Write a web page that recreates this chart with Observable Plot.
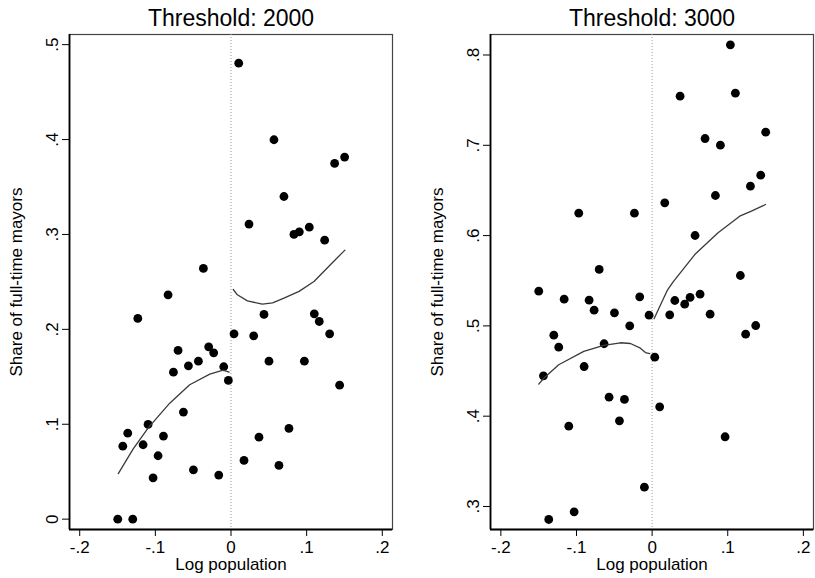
<!DOCTYPE html>
<html>
<head>
<meta charset="utf-8">
<script src="https://cdn.jsdelivr.net/npm/d3@7"></script>
<script src="https://cdn.jsdelivr.net/npm/@observablehq/plot@0.6"></script>
<style>
  html, body { margin: 0; padding: 0; background: #fff; }
  #chart { position: relative; width: 815px; height: 578px; overflow: hidden; background: #fff; }
  #chart > div { position: absolute; top: 0; }
</style>
</head>
<body>
<div id="chart"><div id="p2000" style="left:0"></div><div id="p3000" style="left:407px"></div></div>
<script>
// Municipalities around the population threshold: log population (centred) and share of full-time mayors
const pop2000 = [0.0102, 0.0568, 0.1502, 0.137, 0.070, 0.0238, 0.0832, 0.0903, 0.1035, 0.1238,
  0.0436, 0.1101, 0.1167, 0.1304, 0.004, 0.030, 0.0502, 0.097, 0.1436, 0.0766, 0.037, 0.0172, 0.0634,
  -0.0365, -0.0832, -0.1232, -0.070, -0.0295, -0.0229, -0.0431, -0.0563, -0.0761, -0.0096, -0.0035,
  -0.0629, -0.1096, -0.1365, -0.143, -0.1162, -0.0893, -0.0964, -0.103, -0.0497, -0.0162, -0.1497, -0.1299];
const share2000 = [0.4805, 0.3998, 0.3815, 0.3748, 0.340, 0.3109, 0.300, 0.3028, 0.3077, 0.294,
  0.2157, 0.2164, 0.2083, 0.1953, 0.1953, 0.1932, 0.1665, 0.1665, 0.1412, 0.0956, 0.0864, 0.0619, 0.0566,
  0.2642, 0.2364, 0.2115, 0.1778, 0.1816, 0.1753, 0.1665, 0.1616, 0.1549, 0.1606, 0.1462,
  0.1128, 0.0998, 0.0906, 0.0769, 0.0784, 0.0875, 0.0668, 0.0436, 0.052, 0.0464, 0, 0];

const pop3000 = [-0.097, -0.0234, -0.070, -0.1499, -0.1163, -0.0833, -0.0767, -0.0498, -0.0164, -0.004,
  -0.0296, -0.130, -0.1235, -0.0635, -0.0899, -0.1437, -0.0569, -0.0366, -0.0432, -0.1102, -0.0102, -0.1031, -0.1367,
  0.1035, 0.037, 0.1101, 0.1502, 0.070, 0.0903, 0.1436, 0.130, 0.0837, 0.0167, 0.0568, 0.1167,
  0.0035, 0.010, 0.0233, 0.030, 0.0431, 0.0502, 0.0634, 0.0767, 0.1237, 0.137, 0.0965];
const share3000 = [0.6248, 0.6248, 0.5625, 0.5384, 0.5296, 0.5285, 0.5174, 0.5145, 0.5322, 0.5119,
  0.5001, 0.4897, 0.4764, 0.4802, 0.455, 0.4447, 0.4211, 0.4185, 0.3949, 0.3889, 0.3214, 0.2941, 0.2856,
  0.8113, 0.7544, 0.7577, 0.7145, 0.7075, 0.7001, 0.6669, 0.6547, 0.6444, 0.6363, 0.6001, 0.5558,
  0.4653, 0.4104, 0.5123, 0.5281, 0.524, 0.5315, 0.5351, 0.513, 0.4908, 0.5004, 0.3772];

// Local (lowess) fits on each side of the threshold
const fitBelow2000X = [-0.149, -0.1295, -0.1097, -0.081, -0.0546, -0.028, -0.0104, -0.0025];
const fitBelow2000Y = [0.048, 0.0738, 0.0959, 0.1222, 0.1416, 0.1528, 0.157, 0.155];
const fitAbove2000X = [0.003, 0.0084, 0.0217, 0.0415, 0.055, 0.07, 0.09, 0.1097, 0.1317, 0.1506];
const fitAbove2000Y = [0.242, 0.2364, 0.230, 0.2266, 0.228, 0.2329, 0.240, 0.2505, 0.2684, 0.2835];

const fitBelow3000X = [-0.1499, -0.1433, -0.1235, -0.0904, -0.064, -0.0419, -0.0287, -0.0155, -0.0089, -0.0031];
const fitBelow3000Y = [0.4355, 0.442, 0.457, 0.4717, 0.4783, 0.4813, 0.4805, 0.4753, 0.4705, 0.4694];
const fitAbove3000X = [0.0026, 0.0198, 0.0278, 0.0564, 0.0872, 0.1158, 0.1313, 0.150];
const fitAbove3000Y = [0.508, 0.539, 0.5488, 0.579, 0.6031, 0.6215, 0.627, 0.6344];

// Axis ticks and their labels
const xTicks = [-0.2, -0.1, 0, 0.1, 0.2];
const xTickLabels = ["-.2", "-.1", "0", ".1", ".2"];
const yTicks2000 = [0, 0.1, 0.2, 0.3, 0.4, 0.5];
const yTickLabels2000 = ["0", ".1", ".2", ".3", ".4", ".5"];
const yTicks3000 = [0.3, 0.4, 0.5, 0.6, 0.7, 0.8];
const yTickLabels3000 = [".3", ".4", ".5", ".6", ".7", ".8"];

const titles = ["Threshold: 2000", "Threshold: 3000"];
const xTitle = "Log population";
const yTitle = "Share of full-time mayors";

const zip = (xs, ys) => xs.map((x, i) => ({x, y: ys[i]}));

function panel({title, pts, below, above, xDomain, yDomain, yTicks, yLabels, width, marginLeft, marginRight}) {
  const font = 17;
  return Plot.plot({
    width, height: 578,
    marginLeft, marginRight, marginTop: 34, marginBottom: 49,
    x: {domain: xDomain},
    y: {domain: yDomain},
    style: {fontFamily: "'Liberation Sans', Arial, Helvetica, sans-serif", fontSize: font + "px", background: "#fff", color: "#000"},
    marks: [
      Plot.frame({stroke: "#444", strokeWidth: 1.2}),
      Plot.ruleX([xDomain[0]], {stroke: "#000", strokeWidth: 1.8}),
      Plot.ruleY([yDomain[0]], {stroke: "#000", strokeWidth: 1.8}),
      Plot.ruleX([0], {stroke: "#9a9a9a", strokeWidth: 1, strokeDasharray: "1,2"}),
      Plot.dot(pts, {x: "x", y: "y", r: 4.4, fill: "#000", stroke: "none"}),
      Plot.line(below, {x: "x", y: "y", stroke: "#3a3a3a", strokeWidth: 1.3, curve: "linear"}),
      Plot.line(above, {x: "x", y: "y", stroke: "#3a3a3a", strokeWidth: 1.3, curve: "linear"}),
      Plot.axisX({ticks: xTicks, tickSize: 7, tickPadding: 4, tickFormat: d => xTickLabels[xTicks.indexOf(d)],
        fontSize: font, label: null, stroke: "#000"}),
      Plot.axisY({ticks: yTicks, tickSize: 7, tickFormat: () => "", label: null, stroke: "#000"}),
      Plot.text(yTicks, {y: d => d, text: (d, i) => yLabels[i], frameAnchor: "left", dx: -17,
        rotate: -90, textAnchor: "middle", lineAnchor: "middle", fontSize: font, fill: "#000"}),
      Plot.text([yTitle], {frameAnchor: "left", dx: -53, rotate: -90, textAnchor: "middle",
        lineAnchor: "middle", fontSize: font, fill: "#000"}),
      Plot.text([xTitle], {frameAnchor: "bottom", dy: 35, textAnchor: "middle",
        lineAnchor: "middle", fontSize: font, fill: "#000"}),
      Plot.text([title], {frameAnchor: "top", dy: -9, textAnchor: "middle",
        lineAnchor: "bottom", fontSize: 23, fill: "#000"})
    ]
  });
}

document.getElementById("p2000").append(panel({
  title: titles[0],
  pts: zip(pop2000, share2000),
  below: zip(fitBelow2000X, fitBelow2000Y),
  above: zip(fitAbove2000X, fitAbove2000Y),
  xDomain: [-0.2135, 0.2135], yDomain: [-0.0109, 0.5107],
  yTicks: yTicks2000, yLabels: yTickLabels2000,
  width: 407, marginLeft: 69, marginRight: 15
}));

document.getElementById("p3000").append(panel({
  title: titles[1],
  pts: zip(pop3000, share3000),
  below: zip(fitBelow3000X, fitBelow3000Y),
  above: zip(fitAbove3000X, fitAbove3000Y),
  xDomain: [-0.2137, 0.2134], yDomain: [0.2745, 0.8227],
  yTicks: yTicks3000, yLabels: yTickLabels3000,
  width: 408, marginLeft: 83, marginRight: 2
}));
</script>
</body>
</html>
